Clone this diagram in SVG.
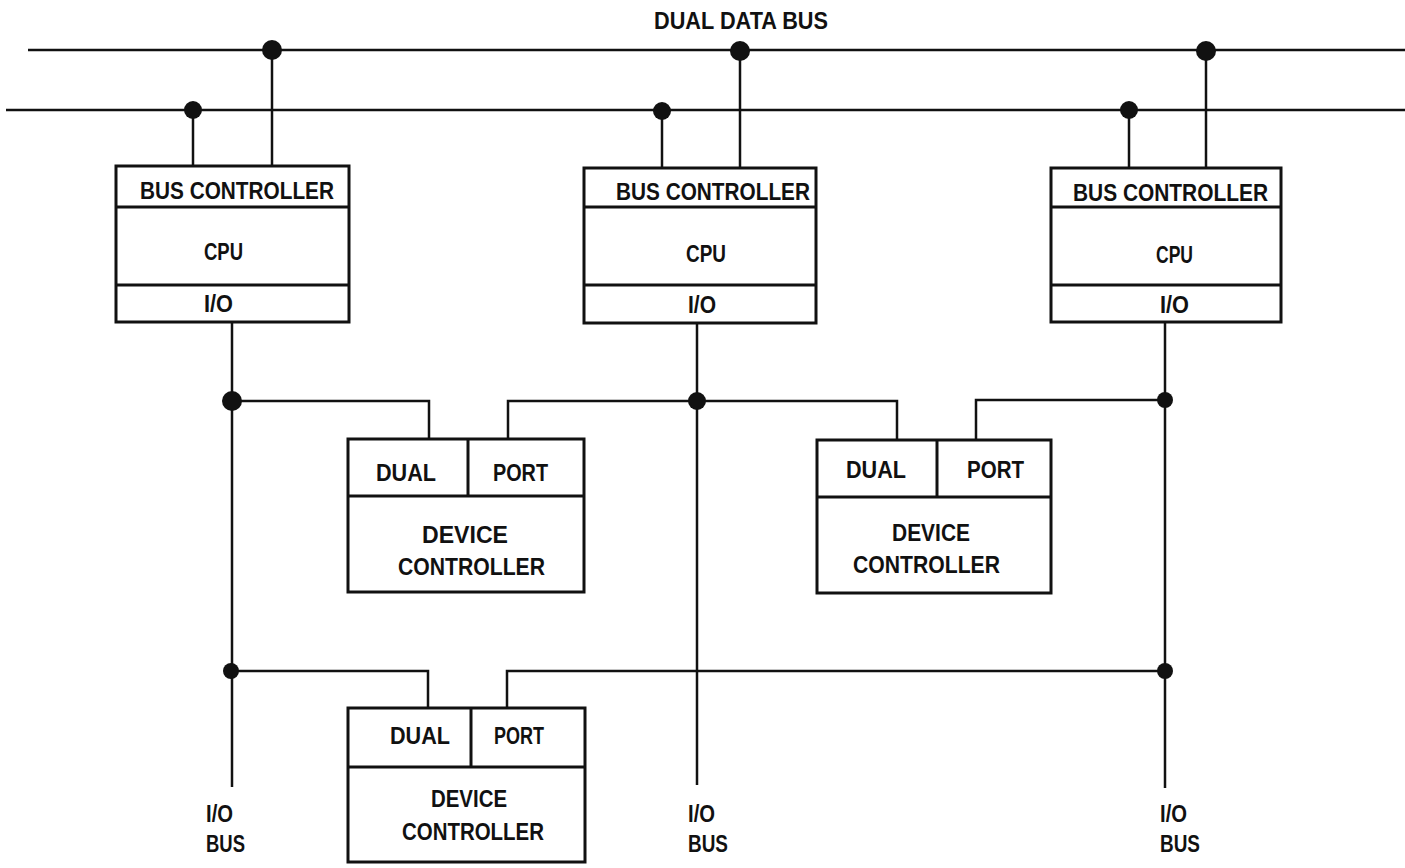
<svg xmlns="http://www.w3.org/2000/svg" width="1405" height="868" viewBox="0 0 1405 868">
<style>
.bus{stroke:#111;stroke-width:2.5;fill:none}
.ln{stroke:#111;stroke-width:2.5;fill:none}
.box{stroke:#111;stroke-width:3;fill:#fff}
.dv{stroke:#111;stroke-width:3}
.dot{fill:#111}
text{font-family:"Liberation Sans",Arial,sans-serif;font-weight:bold;font-size:23px;fill:#111}
</style>
<rect width="1405" height="868" fill="#fff"/>
<g id="dual-data-bus">
<line class="bus" x1="28" y1="50" x2="1405" y2="50"/>
<line class="bus" x1="6" y1="110" x2="1405" y2="110"/>
<text x="654" y="29" textLength="174" lengthAdjust="spacingAndGlyphs">DUAL DATA BUS</text>
</g>
<g id="connectors">
<line class="ln" x1="193" y1="110" x2="193" y2="166"/>
<line class="ln" x1="272" y1="50" x2="272" y2="166"/>
<line class="ln" x1="662" y1="111" x2="662" y2="168"/>
<line class="ln" x1="740" y1="51" x2="740" y2="168"/>
<line class="ln" x1="1129" y1="110" x2="1129" y2="168"/>
<line class="ln" x1="1206" y1="50" x2="1206" y2="168"/>
<line class="ln" x1="232" y1="322" x2="232" y2="787"/>
<line class="ln" x1="697" y1="323" x2="697" y2="785"/>
<line class="ln" x1="1165" y1="322" x2="1165" y2="788"/>
<polyline class="ln" points="232,401 429,401 429,439"/>
<polyline class="ln" points="508,439 508,401 897,401 897,440"/>
<polyline class="ln" points="976,440 976,400 1165,400"/>
<polyline class="ln" points="232,671 428,671 428,708"/>
<polyline class="ln" points="507,708 507,671 1165,671"/>
<circle class="dot" cx="193" cy="110" r="9"/>
<circle class="dot" cx="272" cy="50" r="10"/>
<circle class="dot" cx="662" cy="111" r="9"/>
<circle class="dot" cx="740" cy="51" r="10"/>
<circle class="dot" cx="1129" cy="110" r="9"/>
<circle class="dot" cx="1206" cy="51" r="10"/>
<circle class="dot" cx="232" cy="401" r="10"/>
<circle class="dot" cx="697" cy="401" r="9"/>
<circle class="dot" cx="1165" cy="400" r="8"/>
<circle class="dot" cx="231" cy="671" r="8"/>
<circle class="dot" cx="1165" cy="671" r="8"/>
</g>
<g id="cpu1">
<rect class="box" x="116" y="166" width="233" height="156"/>
<line class="dv" x1="116" y1="207" x2="349" y2="207"/>
<line class="dv" x1="116" y1="285" x2="349" y2="285"/>
<text x="140" y="199" textLength="194" lengthAdjust="spacingAndGlyphs">BUS CONTROLLER</text>
<text x="204" y="260" textLength="39" lengthAdjust="spacingAndGlyphs">CPU</text>
<text x="204" y="312" textLength="29" lengthAdjust="spacingAndGlyphs">I/O</text>
</g>
<g id="cpu2">
<rect class="box" x="584" y="168" width="232" height="155"/>
<line class="dv" x1="584" y1="207" x2="816" y2="207"/>
<line class="dv" x1="584" y1="285" x2="816" y2="285"/>
<text x="616" y="200" textLength="194" lengthAdjust="spacingAndGlyphs">BUS CONTROLLER</text>
<text x="686" y="262" textLength="40" lengthAdjust="spacingAndGlyphs">CPU</text>
<text x="688" y="313" textLength="28" lengthAdjust="spacingAndGlyphs">I/O</text>
</g>
<g id="cpu3">
<rect class="box" x="1051" y="168" width="230" height="154"/>
<line class="dv" x1="1051" y1="207" x2="1281" y2="207"/>
<line class="dv" x1="1051" y1="285" x2="1281" y2="285"/>
<text x="1073" y="201" textLength="195" lengthAdjust="spacingAndGlyphs">BUS CONTROLLER</text>
<text x="1156" y="263" textLength="37" lengthAdjust="spacingAndGlyphs">CPU</text>
<text x="1160" y="313" textLength="29" lengthAdjust="spacingAndGlyphs">I/O</text>
</g>
<g id="dc1">
<rect class="box" x="348" y="439" width="236" height="153"/>
<line class="dv" x1="348" y1="496" x2="584" y2="496"/>
<line class="dv" x1="468" y1="439" x2="468" y2="496"/>
<text x="376" y="481" textLength="60" lengthAdjust="spacingAndGlyphs">DUAL</text>
<text x="493" y="481" textLength="55" lengthAdjust="spacingAndGlyphs">PORT</text>
<text x="422" y="543" textLength="86" lengthAdjust="spacingAndGlyphs">DEVICE</text>
<text x="398" y="575" textLength="147" lengthAdjust="spacingAndGlyphs">CONTROLLER</text>
</g>
<g id="dc2">
<rect class="box" x="817" y="440" width="234" height="153"/>
<line class="dv" x1="817" y1="497" x2="1051" y2="497"/>
<line class="dv" x1="937" y1="440" x2="937" y2="497"/>
<text x="846" y="478" textLength="60" lengthAdjust="spacingAndGlyphs">DUAL</text>
<text x="967" y="478" textLength="57" lengthAdjust="spacingAndGlyphs">PORT</text>
<text x="892" y="541" textLength="78" lengthAdjust="spacingAndGlyphs">DEVICE</text>
<text x="853" y="573" textLength="147" lengthAdjust="spacingAndGlyphs">CONTROLLER</text>
</g>
<g id="dc3">
<rect class="box" x="348" y="708" width="237" height="154"/>
<line class="dv" x1="348" y1="767" x2="585" y2="767"/>
<line class="dv" x1="471" y1="708" x2="471" y2="767"/>
<text x="390" y="744" textLength="60" lengthAdjust="spacingAndGlyphs">DUAL</text>
<text x="494" y="744" textLength="50" lengthAdjust="spacingAndGlyphs">PORT</text>
<text x="431" y="807" textLength="76" lengthAdjust="spacingAndGlyphs">DEVICE</text>
<text x="402" y="840" textLength="142" lengthAdjust="spacingAndGlyphs">CONTROLLER</text>
</g>
<g id="io-bus-labels">
<text x="206" y="822" textLength="27" lengthAdjust="spacingAndGlyphs">I/O</text>
<text x="206" y="852" textLength="39" lengthAdjust="spacingAndGlyphs">BUS</text>
<text x="688" y="822" textLength="27" lengthAdjust="spacingAndGlyphs">I/O</text>
<text x="688" y="852" textLength="40" lengthAdjust="spacingAndGlyphs">BUS</text>
<text x="1160" y="822" textLength="27" lengthAdjust="spacingAndGlyphs">I/O</text>
<text x="1160" y="852" textLength="40" lengthAdjust="spacingAndGlyphs">BUS</text>
</g>
</svg>
